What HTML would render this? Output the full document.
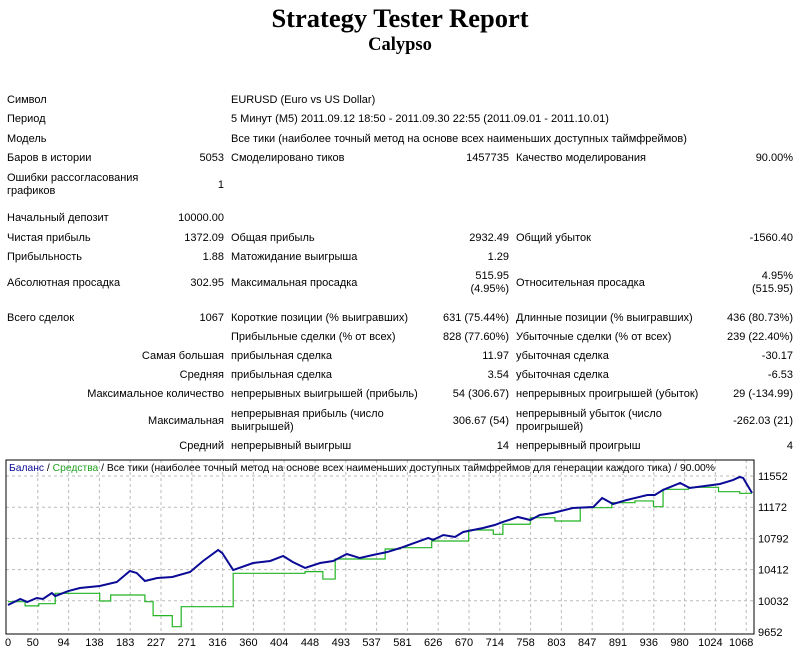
<!DOCTYPE html>
<html><head><meta charset="utf-8"><style>
body{margin:0;width:800px;height:654px;background:#fff;position:relative;overflow:hidden;font-family:"Liberation Sans",sans-serif;font-size:11px;color:#000}
.t{position:absolute;white-space:nowrap;line-height:13px}
.r{text-align:right}
#title{position:absolute;left:0;width:800px;top:3px;text-align:center;font:bold 26.5px "Liberation Serif",serif}
#sub{position:absolute;left:0;width:800px;top:35px;text-align:center;font:bold 18.5px "Liberation Serif",serif}
svg text{font-family:"Liberation Sans",sans-serif;font-size:11px}
</style></head><body>
<div id="title">Strategy Tester Report</div>
<div id="sub">Calypso</div>

<div class="t" style="left:7px;top:94px">Символ</div>
<div class="t" style="left:231px;top:94px">EURUSD (Euro vs US Dollar)</div>
<div class="t" style="left:7px;top:113px">Период</div>
<div class="t" style="left:231px;top:113px">5 Минут (M5) 2011.09.12 18:50 - 2011.09.30 22:55 (2011.09.01 - 2011.10.01)</div>
<div class="t" style="left:7px;top:133px">Модель</div>
<div class="t" style="left:231px;top:133px">Все тики (наиболее точный метод на основе всех наименьших доступных таймфреймов)</div>

<div class="t" style="left:7px;top:152px">Баров в истории</div>
<div class="t r" style="right:576px;top:152px">5053</div>
<div class="t" style="left:231px;top:152px">Смоделировано тиков</div>
<div class="t r" style="right:291px;top:152px">1457735</div>
<div class="t" style="left:516px;top:152px">Качество моделирования</div>
<div class="t r" style="right:7px;top:152px">90.00%</div>

<div class="t" style="left:7px;top:172px">Ошибки рассогласования<br>графиков</div>
<div class="t r" style="right:576px;top:179px">1</div>

<div class="t" style="left:7px;top:212px">Начальный депозит</div>
<div class="t r" style="right:576px;top:212px">10000.00</div>

<div class="t" style="left:7px;top:232px">Чистая прибыль</div>
<div class="t r" style="right:576px;top:232px">1372.09</div>
<div class="t" style="left:231px;top:232px">Общая прибыль</div>
<div class="t r" style="right:291px;top:232px">2932.49</div>
<div class="t" style="left:516px;top:232px">Общий убыток</div>
<div class="t r" style="right:7px;top:232px">-1560.40</div>

<div class="t" style="left:7px;top:251px">Прибыльность</div>
<div class="t r" style="right:576px;top:251px">1.88</div>
<div class="t" style="left:231px;top:251px">Матожидание выигрыша</div>
<div class="t r" style="right:291px;top:251px">1.29</div>

<div class="t" style="left:7px;top:277px">Абсолютная просадка</div>
<div class="t r" style="right:576px;top:277px">302.95</div>
<div class="t" style="left:231px;top:277px">Максимальная просадка</div>
<div class="t r" style="right:291px;top:270px">515.95<br>(4.95%)</div>
<div class="t" style="left:516px;top:277px">Относительная просадка</div>
<div class="t r" style="right:7px;top:270px">4.95%<br>(515.95)</div>

<div class="t" style="left:7px;top:312px">Всего сделок</div>
<div class="t r" style="right:576px;top:312px">1067</div>
<div class="t" style="left:231px;top:312px">Короткие позиции (% выигравших)</div>
<div class="t r" style="right:291px;top:312px">631 (75.44%)</div>
<div class="t" style="left:516px;top:312px">Длинные позиции (% выигравших)</div>
<div class="t r" style="right:7px;top:312px">436 (80.73%)</div>

<div class="t" style="left:231px;top:331px">Прибыльные сделки (% от всех)</div>
<div class="t r" style="right:291px;top:331px">828 (77.60%)</div>
<div class="t" style="left:516px;top:331px">Убыточные сделки (% от всех)</div>
<div class="t r" style="right:7px;top:331px">239 (22.40%)</div>

<div class="t r" style="right:576px;top:350px">Самая большая</div>
<div class="t" style="left:231px;top:350px">прибыльная сделка</div>
<div class="t r" style="right:291px;top:350px">11.97</div>
<div class="t" style="left:516px;top:350px">убыточная сделка</div>
<div class="t r" style="right:7px;top:350px">-30.17</div>

<div class="t r" style="right:576px;top:369px">Средняя</div>
<div class="t" style="left:231px;top:369px">прибыльная сделка</div>
<div class="t r" style="right:291px;top:369px">3.54</div>
<div class="t" style="left:516px;top:369px">убыточная сделка</div>
<div class="t r" style="right:7px;top:369px">-6.53</div>

<div class="t r" style="right:576px;top:388px">Максимальное количество</div>
<div class="t" style="left:231px;top:388px">непрерывных выигрышей (прибыль)</div>
<div class="t r" style="right:291px;top:388px">54 (306.67)</div>
<div class="t" style="left:516px;top:388px">непрерывных проигрышей (убыток)</div>
<div class="t r" style="right:7px;top:388px">29 (-134.99)</div>

<div class="t r" style="right:576px;top:415px">Максимальная</div>
<div class="t" style="left:231px;top:408px">непрерывная прибыль (число<br>выигрышей)</div>
<div class="t r" style="right:291px;top:415px">306.67 (54)</div>
<div class="t" style="left:516px;top:408px">непрерывный убыток (число<br>проигрышей)</div>
<div class="t r" style="right:7px;top:415px">-262.03 (21)</div>

<div class="t r" style="right:576px;top:440px">Средний</div>
<div class="t" style="left:231px;top:440px">непрерывный выигрыш</div>
<div class="t r" style="right:291px;top:440px">14</div>
<div class="t" style="left:516px;top:440px">непрерывный проигрыш</div>
<div class="t r" style="right:7px;top:440px">4</div>

<svg id="chart" width="800" height="654" style="position:absolute;left:0;top:0" xmlns="http://www.w3.org/2000/svg"></svg>
<script>
const xTickLabels=[0,50,94,138,183,227,271,316,360,404,448,493,537,581,626,670,714,758,803,847,891,936,980,1024,1068];
const yTickLabels=[9652,10032,10412,10792,11172,11552];
const balanceTrades=[0,18,28,42,51,64,69,88,105,134,159,178,188,200,218,240,266,285,307,313,329,358,383,402,416,434,456,475,495,514,533,554,573,614,621,636,653,665,694,711,723,745,763,777,796,825,855,868,884,904,934,945,957,982,996,1040,1059,1069,1074,1087];
const balanceValues=[9981,10054,10017,10066,10054,10127,10090,10151,10188,10212,10261,10395,10371,10273,10310,10322,10383,10517,10651,10614,10407,10492,10517,10578,10505,10432,10492,10517,10602,10553,10590,10626,10675,10797,10773,10833,10809,10870,10919,10955,10992,11053,11016,11077,11101,11162,11174,11284,11211,11260,11321,11321,11382,11467,11406,11455,11503,11540,11528,11345];
const equityStepTrades=[0,25,45,69,134,150,200,212,240,253,329,434,460,478,551,573,619,673,709,723,763,799,836,882,916,943,957,994,1038,1069,1087];
const equityStepValues=[10021,9970,9997,10123,10030,10103,10021,9851,9717,9960,10367,10387,10297,10541,10663,10679,10760,10894,10842,10964,11044,11004,11166,11227,11248,11178,11390,11414,11361,11341,11341];

const svg=document.getElementById('chart');
const NS='http://www.w3.org/2000/svg';
const L=6,T=460,R=754,B=634;
const xOf=i=>8+i*0.6845;
const yOf=v=>632-(v-9652)*31.2/380;
function mk(tag,attrs){const e=document.createElementNS(NS,tag);for(const k in attrs)e.setAttribute(k,attrs[k]);svg.appendChild(e);return e;}

yTickLabels.forEach((v,k)=>{
  const y=yOf(v);
  if(k>0){
    const g=mk('line',{x1:L,x2:R,y1:y,y2:y,stroke:'#bbb','stroke-dasharray':'3,3'});
    
    
  }
  const t=mk('text',{x:758,y:y+4,fill:'#000'});
  t.textContent=v;
  
  
});
xTickLabels.forEach((v,k)=>{
  const gx=7+30.8*k;
  if(k>0){
    const g=mk('line',{x1:gx,x2:gx,y1:T,y2:B,stroke:'#bbb','stroke-dasharray':'3,3'});
    
    
  }
  const t=mk('text',{x:k===0?8:gx-5,y:646,'text-anchor':'middle',fill:'#000'});
  t.textContent=v;
  
  
});
const frame=mk('rect',{x:L,y:T,width:R-L,height:B-T,fill:'none',stroke:'#000'});



let ed='';
equityStepTrades.forEach((t,i)=>{
  const x=xOf(t),y=yOf(equityStepValues[i]);
  if(i===0)ed+='M'+x+','+y;else ed+=' H'+x+' V'+y;
});
const eq=mk('path',{d:ed,fill:'none',stroke:'#22b422','stroke-width':1.2});



const bd=balanceTrades.map((t,i)=>(i?'L':'M')+xOf(t)+','+yOf(balanceValues[i])).join(' ');
const bl=mk('path',{d:bd,fill:'none',stroke:'#0a0a96','stroke-width':2});



const lg=mk('text',{x:9,y:471,style:'font-size:10.3px'});


lg.innerHTML='<tspan fill="#0a0a96">Баланс</tspan><tspan fill="#000"> / </tspan><tspan fill="#22a022">Средства</tspan><tspan fill="#000"> / Все тики (наиболее точный метод на основе всех наименьших доступных таймфреймов для генерации каждого тика) / 90.00%</tspan>';
</script>
</body></html>
